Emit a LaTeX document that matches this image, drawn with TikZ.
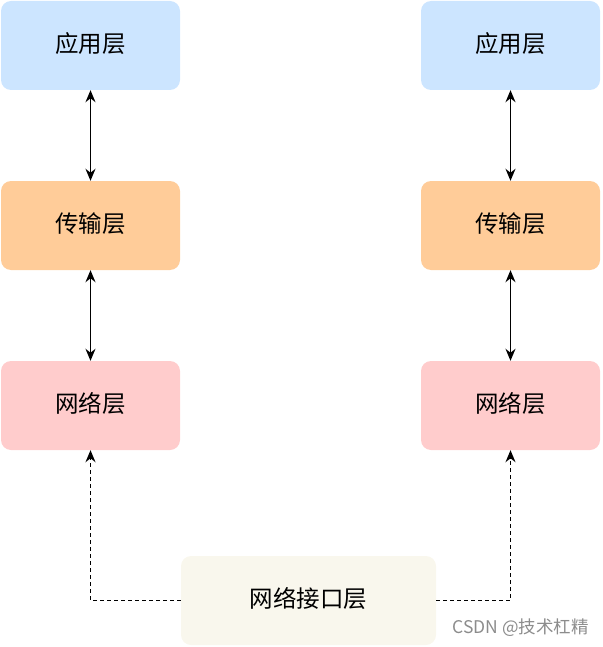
\documentclass[tikz,border=0pt]{standalone}
\usepackage{fontspec}
\newfontfamily\cjk{Noto Sans CJK SC}
\usetikzlibrary{arrows.meta}
\definecolor{appblue}{HTML}{CCE5FF}
\definecolor{transorange}{HTML}{FFCC99}
\definecolor{netpink}{HTML}{FFCCCC}
\definecolor{ifcream}{HTML}{F9F7ED}
\tikzset{
  layerbox/.style={rectangle, rounded corners=10pt, draw=none, minimum width=179pt, minimum height=89pt, font=\cjk\fontsize{23.5}{26}\selectfont, text=black, inner sep=0pt},
  boxlabel/.style={font=\cjk\fontsize{23.5}{26}\selectfont, text=black, inner sep=0pt},
  biarrow/.style={{Stealth[length=12pt,width=10pt]}-{Stealth[length=12pt,width=10pt]}, line width=1.5pt, black},
  dasharrow/.style={-{Stealth[length=12pt,width=10pt]}, line width=1.5pt, black, dash pattern=on 4pt off 3pt}
}
\begin{document}
\begin{tikzpicture}[x=1pt,y=-1pt]
\useasboundingbox (0,0) rectangle (602,647);
\node[layerbox, fill=appblue] (a1) at (90.5,45.5) {};
\node[layerbox, fill=transorange] (t1) at (90.5,225.5) {};
\node[layerbox, fill=netpink] (n1) at (90.5,405.5) {};
\node[layerbox, fill=appblue] (a2) at (510.5,45.5) {};
\node[layerbox, fill=transorange] (t2) at (510.5,225.5) {};
\node[layerbox, fill=netpink] (n2) at (510.5,405.5) {};
\node[layerbox, fill=ifcream, minimum width=255pt] (i) at (308.5,600.5) {};
\node[boxlabel] (la1) at (90.5,43.5) {应用层};
\node[boxlabel] (lt1) at (90.5,223.5) {传输层};
\node[boxlabel] (ln1) at (90.5,403.5) {网络层};
\node[boxlabel] (la2) at (510.5,43.5) {应用层};
\node[boxlabel] (lt2) at (510.5,223.5) {传输层};
\node[boxlabel] (ln2) at (510.5,403.5) {网络层};
\node[boxlabel] (li) at (308.5,598.5) {网络接口层};
\draw[biarrow] (a1) -- (t1);
\draw[biarrow] (t1) -- (n1);
\draw[biarrow] (a2) -- (t2);
\draw[biarrow] (t2) -- (n2);
\draw[dasharrow] (i.west) -| (n1.south);
\draw[dasharrow] (i.east) -| (n2.south);
\node[font=\cjk\fontsize{17.5}{20}\selectfont, text=black!45, anchor=east, inner sep=0pt] (wm) at (589,628) {CSDN @技术杠精};
\end{tikzpicture}
\end{document}
